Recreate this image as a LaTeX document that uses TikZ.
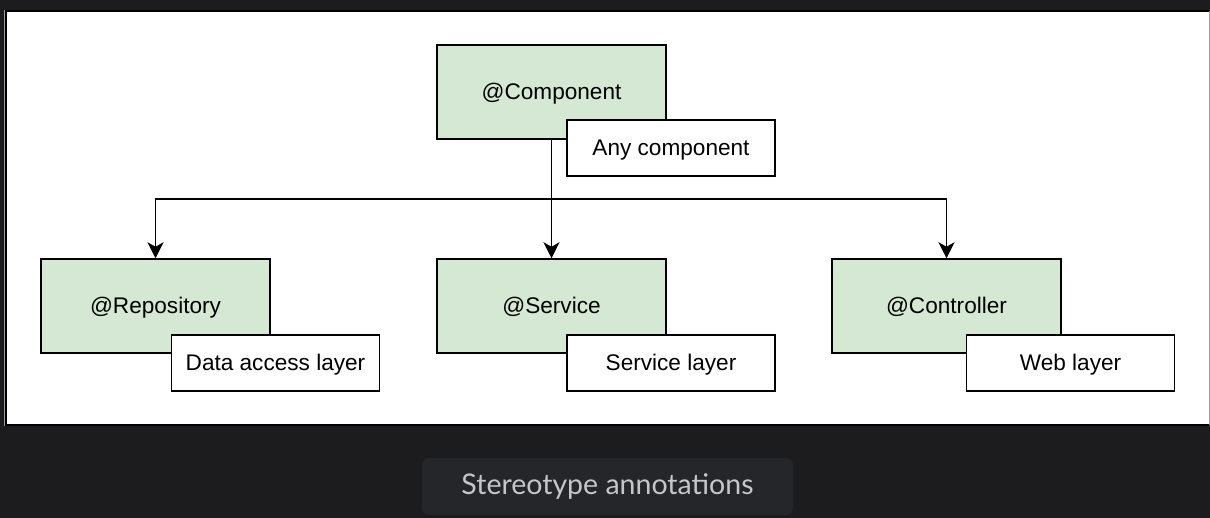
\documentclass[tikz,border=0pt]{standalone}
\usepackage{fontspec}
\setmainfont{Liberation Sans}
\newfontfamily\capfont{Lato}
\usetikzlibrary{arrows.meta}
\definecolor{bg}{HTML}{1C1C1E}
\definecolor{capbg}{HTML}{25262A}
\definecolor{captxt}{HTML}{C6C6CA}
\definecolor{gfill}{HTML}{D5E8D4}
\definecolor{edgegrey}{HTML}{9A9A9A}
\begin{document}
\begin{tikzpicture}[x=1pt,y=-1pt,
  mainbox/.style={draw=black, fill=gfill, line width=1.5pt, minimum width=229pt, minimum height=94pt, inner sep=0pt, text height=19.5pt, text depth=4.5pt, font=\fontsize{22.6}{26}\selectfont},
  notebox/.style={draw=black, fill=white, line width=1.5pt, minimum width=208pt, minimum height=56pt, inner sep=0pt, text height=19.5pt, text depth=4.5pt, font=\fontsize{22.6}{26}\selectfont},
  conn/.style={line width=1.6pt, -{Stealth[length=16pt,width=16pt,inset=4.5pt]}}]
\useasboundingbox (0,0) rectangle (1210,518);
\fill[bg] (0,0) rectangle (1210,518);
% panel
\fill[white] (6,11) rectangle (1209,425);
\draw[edgegrey, line width=1pt] (4.5,10) -- (4.5,426);
\draw[edgegrey, line width=1pt] (1209,11) -- (1209,425);
\draw[black, line width=1.6pt] (1209,10.8) -- (5.8,10.8) -- (5.8,425) -- (1209,425);
% nodes
\node[mainbox] (comp) at (551.5,92) {@Component};
\node[mainbox] (repo) at (155.5,306) {@Repository};
\node[mainbox] (serv) at (551.5,306) {@Service};
\node[mainbox] (ctrl) at (946.5,306) {@Controller};
\coordinate (bus) at (551.5,199);
\draw[conn] (comp.south) -- (bus) -| (repo.north);
\draw[conn] (comp.south) -- (serv.north);
\draw[conn] (comp.south) -- (bus) -| (ctrl.north);
\node[notebox] (compn) at (671,148) {Any component};
\node[notebox] (repon) at (275.5,363) {Data access layer};
\node[notebox] (servn) at (671,363) {Service layer};
\node[notebox] (ctrln) at (1070.5,363) {Web layer};
% caption
\node[fill=capbg, rounded corners=7pt, minimum width=371pt, minimum height=57pt, inner sep=0pt, text=captxt, text height=21pt, text depth=5pt, font=\capfont\fontsize{28.5}{32}\selectfont] (cap) at (607.5,486.5) {Stereotype annotations};
\end{tikzpicture}
\end{document}
